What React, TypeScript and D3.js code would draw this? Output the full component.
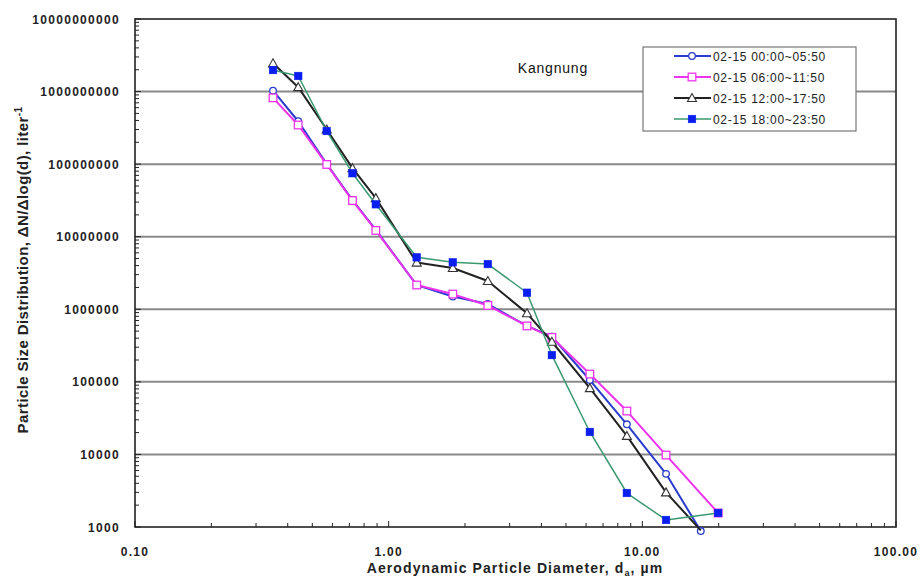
import { useEffect, useRef } from 'react'
import * as d3 from 'd3'

// aerodynamic diameters (um)
const diamShort = [0.35, 0.44, 0.57, 0.72, 0.89, 1.29, 1.79, 2.46, 3.51, 4.40, 6.21, 8.69, 12.4, 17.0]
const diamLong = [0.35, 0.44, 0.57, 0.72, 0.89, 1.29, 1.79, 2.46, 3.51, 4.40, 6.21, 8.69, 12.4, 19.9]

const seriesNames = ['02-15 00:00~05:50', '02-15 06:00~11:50', '02-15 12:00~17:50', '02-15 18:00~23:50']

const vals0000 = [1.03e9, 3.9e8, 1.0e8, 3.2e7, 1.24e7, 2.15e6, 1.5e6, 1.18e6, 5.9e5, 4.2e5, 1.06e5, 2.6e4, 5.4e3, 880]
const vals0600 = [8.2e8, 3.46e8, 9.9e7, 3.15e7, 1.22e7, 2.16e6, 1.62e6, 1.13e6, 5.9e5, 4.1e5, 1.28e5, 3.96e4, 9.8e3, 1.56e3]
const vals1200 = [2.45e9, 1.15e9, 3.0e8, 8.8e7, 3.4e7, 4.4e6, 3.7e6, 2.45e6, 8.8e5, 3.57e5, 8.2e4, 1.8e4, 3.0e3, 900]
const vals1800 = [1.98e9, 1.64e9, 2.86e8, 7.5e7, 2.8e7, 5.2e6, 4.44e6, 4.2e6, 1.69e6, 2.34e5, 2.04e4, 2.94e3, 1.25e3, 1.56e3]

const xTicks = [0.1, 1, 10, 100]
const yTicks = [1e3, 1e4, 1e5, 1e6, 1e7, 1e8, 1e9, 1e10]

export default function App() {
  const svgRef = useRef<SVGSVGElement | null>(null)

  useEffect(() => {
    if (!svgRef.current) return
    const width = 921
    const height = 577
    const left = 135, right = 896, top = 19, bottom = 527

    const svg = d3.select(svgRef.current)
    svg.selectAll('*').remove()
    svg.attr('width', width).attr('height', height)
      .style('position', 'absolute').style('left', 0).style('top', 0)
      .style('background', '#fff')
      .style('font-family', 'Arial, "Liberation Sans", sans-serif')

    const x = d3.scaleLog().domain([0.1, 100]).range([left, right])
    const y = d3.scaleLog().domain([1e3, 1e10]).range([bottom, top])

    const series = [
      { name: seriesNames[0], xs: diamShort, vs: vals0000, line: '#2a3ccc', width: 2, marker: 'circle', fill: '#fff', stroke: '#2a3ccc' },
      { name: seriesNames[1], xs: diamLong, vs: vals0600, line: '#ee33ee', width: 2, marker: 'square', fill: '#fff', stroke: '#ee33ee' },
      { name: seriesNames[2], xs: diamShort, vs: vals1200, line: '#222', width: 2, marker: 'triangle', fill: '#fff', stroke: '#333' },
      { name: seriesNames[3], xs: diamLong, vs: vals1800, line: '#3a9970', width: 1.5, marker: 'filled', fill: '#0a1ef0', stroke: '#0a1ef0' },
    ]

    // gridlines
    svg.append('g').selectAll('line')
      .data(yTicks.slice(1, -1))
      .enter().append('line')
      .attr('x1', left).attr('x2', right)
      .attr('y1', d => y(d)).attr('y2', d => y(d))
      .attr('stroke', '#8a8a8a').attr('stroke-width', 2)

    // minor ticks (inside)
    const yMinor: number[] = []
    for (let e = 3; e < 10; e++) for (let k = 2; k <= 9; k++) yMinor.push(k * Math.pow(10, e))
    const xMinor: number[] = []
    for (let e = -1; e < 2; e++) for (let k = 2; k <= 9; k++) xMinor.push(k * Math.pow(10, e))

    const ticks = svg.append('g').attr('stroke', '#222').attr('stroke-width', 1)
    ticks.selectAll('.ym').data(yMinor).enter().append('line')
      .attr('x1', left).attr('x2', left + 4)
      .attr('y1', d => y(d)).attr('y2', d => y(d))
    ticks.selectAll('.yM').data(yTicks).enter().append('line')
      .attr('x1', left).attr('x2', left + 6)
      .attr('y1', d => y(d)).attr('y2', d => y(d))
    ticks.selectAll('.xm').data(xMinor).enter().append('line')
      .attr('x1', d => x(d)).attr('x2', d => x(d))
      .attr('y1', bottom).attr('y2', bottom - 4)
    ticks.selectAll('.xM').data(xTicks).enter().append('line')
      .attr('x1', d => x(d)).attr('x2', d => x(d))
      .attr('y1', bottom).attr('y2', bottom - 6)

    // plot frame
    svg.append('rect')
      .attr('x', left).attr('y', top)
      .attr('width', right - left).attr('height', bottom - top)
      .attr('fill', 'none').attr('stroke', '#222').attr('stroke-width', 1.6)

    // tick labels
    svg.append('g').selectAll('text').data(yTicks).enter().append('text')
      .attr('x', 120).attr('y', d => y(d) + 4.5)
      .attr('text-anchor', 'end')
      .attr('font-size', 12).attr('font-weight', 'bold')
      .attr('letter-spacing', 1.3)
      .attr('fill', '#222')
      .text(d => d3.format('d')(d))

    svg.append('g').selectAll('text').data(xTicks).enter().append('text')
      .attr('x', d => x(d)).attr('y', 556)
      .attr('text-anchor', 'middle')
      .attr('font-size', 12).attr('font-weight', 'bold')
      .attr('letter-spacing', 1.3)
      .attr('fill', '#222')
      .text(d => d.toFixed(2))

    // axis titles
    const xt = svg.append('text')
      .attr('x', 515).attr('y', 573)
      .attr('text-anchor', 'middle')
      .attr('font-size', 14).attr('font-weight', 'bold')
      .attr('letter-spacing', 1.1)
      .attr('fill', '#222')
    xt.append('tspan').text('Aerodynamic Particle Diameter, d')
    xt.append('tspan').attr('font-size', 9).attr('dy', 3).text('a')
    xt.append('tspan').attr('dy', -3).text(', \u00b5m')

    const yt = svg.append('text')
      .attr('transform', 'translate(28,270) rotate(-90)')
      .attr('text-anchor', 'middle')
      .attr('font-size', 15).attr('font-weight', 'bold')
      .attr('letter-spacing', 0.4)
      .attr('fill', '#222')
    yt.append('tspan').text('Particle Size Distribution, \u0394N/\u0394log(d), liter')
    yt.append('tspan').attr('font-size', 10).attr('dy', -6).text('-1')

    svg.append('text')
      .attr('x', 588).attr('y', 73)
      .attr('text-anchor', 'end')
      .attr('font-size', 14).attr('letter-spacing', 0.8)
      .attr('fill', '#111')
      .text('Kangnung')

    const drawMarker = (g: any, kind: string, cx: number, cy: number, fill: string, stroke: string) => {
      if (kind === 'circle') {
        g.append('circle').attr('cx', cx).attr('cy', cy).attr('r', 3.3)
          .attr('fill', fill).attr('stroke', stroke).attr('stroke-width', 1.3)
      } else if (kind === 'square' || kind === 'filled') {
        g.append('rect').attr('x', cx - 3.8).attr('y', cy - 3.8).attr('width', 7.6).attr('height', 7.6)
          .attr('fill', fill).attr('stroke', stroke).attr('stroke-width', kind === 'square' ? 1.3 : 0.5)
      } else {
        g.append('path')
          .attr('d', `M${cx},${cy - 4.5}L${cx + 4.5},${cy + 3.5}L${cx - 4.5},${cy + 3.5}Z`)
          .attr('fill', fill).attr('stroke', stroke).attr('stroke-width', 1.1)
      }
    }

    const lineGen = d3.line<[number, number]>().x(d => x(d[0])).y(d => y(d[1]))

    // black series last point sits below the axis: hide its marker there
    const clipBelow = (v: number) => v >= 1e3

    series.forEach((s, si) => {
      const pts = s.xs.map((d, i) => [d, s.vs[i]] as [number, number])
      const g = svg.append('g')
      g.append('path').attr('d', lineGen(pts))
        .attr('fill', 'none').attr('stroke', s.line).attr('stroke-width', s.width)
        .attr('stroke-linejoin', 'round')
      pts.forEach(p => {
        if (si === 2 && !clipBelow(p[1])) return
        drawMarker(g, s.marker, x(p[0]), y(p[1]), s.fill, s.stroke)
      })
    })

    // legend
    const lg = svg.append('g')
    lg.append('rect').attr('x', 643).attr('y', 47).attr('width', 213).attr('height', 84)
      .attr('fill', '#fff').attr('stroke', '#777').attr('stroke-width', 1.2)
    series.forEach((s, i) => {
      const ly = 56 + i * 21
      lg.append('line').attr('x1', 674).attr('x2', 711).attr('y1', ly).attr('y2', ly)
        .attr('stroke', s.line).attr('stroke-width', s.width)
      drawMarker(lg, s.marker, 692, ly, s.fill, s.stroke)
      lg.append('text').attr('x', 713).attr('y', ly + 4.5)
        .attr('font-size', 12).attr('letter-spacing', 0.7)
        .attr('fill', '#222')
        .text(s.name)
    })
  }, [])

  return <svg ref={svgRef} />
}
